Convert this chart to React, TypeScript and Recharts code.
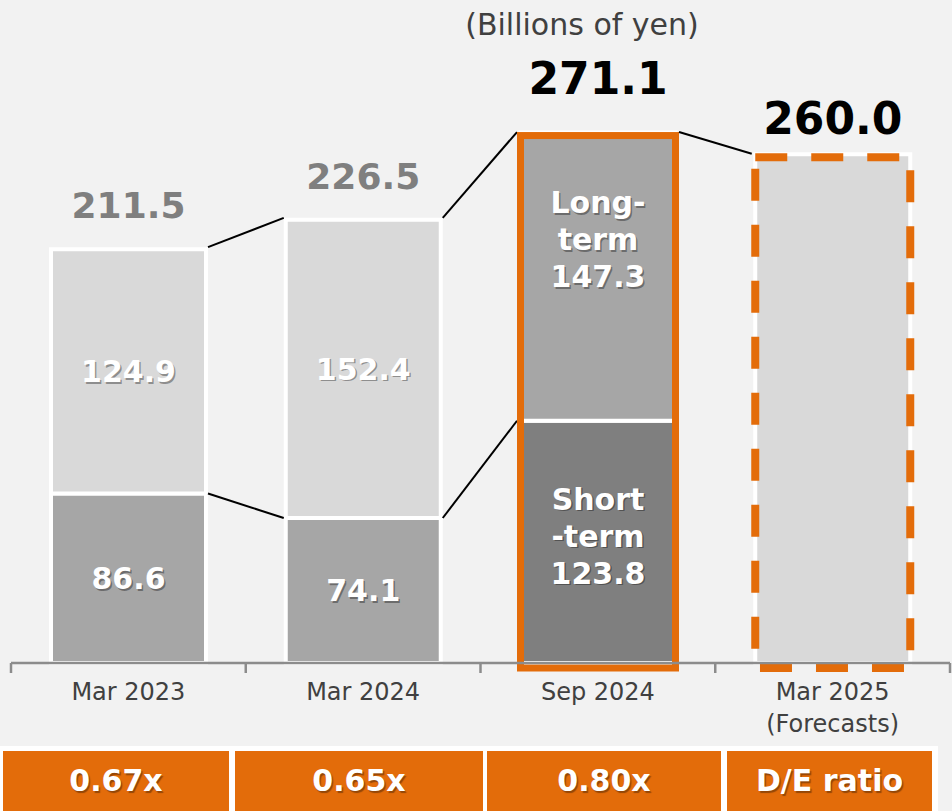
import React from "react";
import { ComposedChart, Bar, XAxis, YAxis, Cell, LabelList } from "recharts";

const periods = ["Mar 2023", "Mar 2024", "Sep 2024", "Mar 2025"];
const periodNotes = ["", "", "", "(Forecasts)"];
const shortTerm = [86.6, 74.1, 123.8, null];
const longTerm = [124.9, 152.4, 147.3, null];
const forecast = [null, null, null, 260.0];
const totals = [211.5, 226.5, 271.1, 260.0];
const ratios = ["0.67x", "0.65x", "0.80x", "D/E ratio"];
const longCaption = ["Long-", "term"];
const shortCaption = ["Short", "-term"];

const HIGHLIGHT = 2; // latest actual, framed in orange
const ORANGE = "#e36c0a";
const FONT = "'DejaVu Sans', Verdana, sans-serif";

const W = 952;
const CHART_H = 745;
const PLOT_LEFT = 11;
const PLOT_RIGHT = 950;
const PLOT_BOTTOM = 663;
const BAND = (PLOT_RIGHT - PLOT_LEFT) / periods.length;

const data = periods.map((p, i) => ({
  period: p,
  note: periodNotes[i],
  short: shortTerm[i],
  long: longTerm[i],
  forecast: forecast[i],
  total: totals[i],
}));

function ShadowText({ x, y, size, children }: any) {
  return (
    <g fontFamily={FONT} fontSize={size} fontWeight="bold" textAnchor="middle">
      <text x={x + 1.5} y={y + 1.5} dy="0.36em" fill="rgba(0,0,0,0.35)">
        {children}
      </text>
      <text x={x} y={y} dy="0.36em" fill="#fff">
        {children}
      </text>
    </g>
  );
}

function segmentLabel(caption: string[], shift: number) {
  return (props: any) => {
    const { x, y, width, height, value, index } = props;
    if (value == null) return null;
    const lines = index === HIGHLIGHT ? [...caption, value.toFixed(1)] : [value.toFixed(1)];
    const cx = x + width / 2;
    const cy = y + height / 2 + (index === HIGHLIGHT ? shift : 0);
    const lh = 37;
    return (
      <g>
        {lines.map((t, k) => (
          <ShadowText key={k} x={cx} y={cy + (k - (lines.length - 1) / 2) * lh} size={30}>
            {t}
          </ShadowText>
        ))}
      </g>
    );
  };
}

function totalLabel(props: any) {
  const { x, y, width, value, index } = props;
  if (value == null) return null;
  const strong = index >= HIGHLIGHT;
  const off = index === HIGHLIGHT ? 54 : index > HIGHLIGHT ? 36 : 44;
  return (
    <text
      x={x + width / 2}
      y={y - off}
      dy="0.36em"
      textAnchor="middle"
      fontFamily={FONT}
      fontWeight="bold"
      fontSize={strong ? 44 : 36}
      fill={strong ? "#000" : "#7f7f7f"}
    >
      {value.toFixed(1)}
    </text>
  );
}

// frame around the total + connector lines to the next bar
function FrameShape(props: any) {
  const { x, y, width, height, index } = props;
  const ppu = height / totals[index];
  const base = y + height;
  const framed = index >= HIGHLIGHT;
  const out: any[] = [];
  if (framed) {
    out.push(
      <rect
        key="frame"
        x={x}
        y={y + 3}
        width={width}
        height={height + 2}
        fill="none"
        stroke={ORANGE}
        strokeWidth={index === HIGHLIGHT ? 7 : 8}
        strokeDasharray={index === HIGHLIGHT ? undefined : "32 24"}
      />
    );
  }
  if (index < totals.length - 1) {
    const nx = x + BAND;
    const nextFramed = index + 1 >= HIGHLIGHT;
    const x1 = x + width + (framed ? 3.5 : 2);
    const x2 = nx - (nextFramed ? 3.5 : 2);
    const y1 = framed ? y - 0.5 : y - 2;
    const nTop = base - totals[index + 1] * ppu;
    const y2 = nextFramed ? nTop - 0.5 : nTop - 2;
    out.push(<line key="top" x1={x1} y1={y1} x2={x2} y2={y2} stroke="#000" strokeWidth={2} />);
    const s0 = shortTerm[index];
    const s1 = shortTerm[index + 1];
    if (s0 != null && s1 != null) {
      out.push(
        <line
          key="mid"
          x1={x1}
          y1={base - s0 * ppu}
          x2={x2}
          y2={base - s1 * ppu}
          stroke="#000"
          strokeWidth={2}
        />
      );
    }
  }
  return <g>{out}</g>;
}

function PeriodTick(props: any) {
  const { x, payload } = props;
  const i = payload.index;
  const note = periodNotes[i];
  const left = x - BAND / 2;
  return (
    <g>
      <line x1={left} y1={PLOT_BOTTOM} x2={left} y2={PLOT_BOTTOM + 10} stroke="#8c8c8c" strokeWidth={2.5} />
      {i === periods.length - 1 && (
        <line x1={x + BAND / 2} y1={PLOT_BOTTOM} x2={x + BAND / 2} y2={PLOT_BOTTOM + 10} stroke="#8c8c8c" strokeWidth={2.5} />
      )}
      <text x={x} y={PLOT_BOTTOM + 28} dy="0.36em" textAnchor="middle" fontFamily={FONT} fontSize={24} fill="#404040">
        {payload.value}
      </text>
      {note && (
        <text x={x} y={PLOT_BOTTOM + 60} dy="0.36em" textAnchor="middle" fontFamily={FONT} fontSize={24} fill="#404040">
          {note}
        </text>
      )}
    </g>
  );
}

export default function App() {
  return (
    <div
      style={{
        position: "absolute",
        left: 0,
        top: 0,
        width: W,
        height: 811,
        background: "#f2f2f2",
        fontFamily: FONT,
        overflow: "hidden",
      }}
    >
      <div
        style={{
          position: "absolute",
          left: 420,
          width: 324,
          top: 7,
          textAlign: "center",
          fontSize: 30,
          color: "#404040",
        }}
      >
        (Billions of yen)
      </div>
      <ComposedChart
        width={W}
        height={CHART_H}
        data={data}
        margin={{ top: 76, right: W - PLOT_RIGHT, left: PLOT_LEFT, bottom: 0 }}
        barGap={0}
        barCategoryGap={0}
      >
        <YAxis hide domain={[0, 300]} />
        <XAxis
          xAxisId="main"
          dataKey="period"
          height={CHART_H - PLOT_BOTTOM}
          axisLine={{ stroke: "#8c8c8c", strokeWidth: 2.5 }}
          tickLine={false}
          interval={0}
          tick={<PeriodTick />}
        />
        <XAxis xAxisId="frame" dataKey="period" orientation="top" height={0} hide />
        <Bar xAxisId="main" dataKey="short" stackId="debt" barSize={155} stroke="#fff" strokeWidth={4} isAnimationActive={false}>
          {data.map((d, i) => (
            <Cell key={i} fill={i === HIGHLIGHT ? "#7f7f7f" : "#a6a6a6"} />
          ))}
          <LabelList dataKey="short" content={segmentLabel(shortCaption, -6)} />
        </Bar>
        <Bar xAxisId="main" dataKey="long" stackId="debt" barSize={155} stroke="#fff" strokeWidth={4} isAnimationActive={false}>
          {data.map((d, i) => (
            <Cell key={i} fill={i === HIGHLIGHT ? "#a6a6a6" : "#d9d9d9"} />
          ))}
          <LabelList dataKey="long" content={segmentLabel(longCaption, -37)} />
        </Bar>
        <Bar
          xAxisId="main"
          dataKey="forecast"
          stackId="debt"
          barSize={155}
          fill="#d9d9d9"
          stroke="#fff"
          strokeWidth={4}
          isAnimationActive={false}
        />
        <Bar xAxisId="frame" dataKey="total" barSize={155} shape={<FrameShape />} isAnimationActive={false}>
          <LabelList dataKey="total" content={totalLabel} />
        </Bar>
      </ComposedChart>
      <div
        style={{
          position: "absolute",
          left: 0,
          top: 746,
          width: 938,
          height: 70,
          background: "#fff",
        }}
      >
        {ratios.map((r, i) => {
          const edges = [
            [3, 229],
            [235, 483],
            [487, 721],
            [727, 932],
          ][i];
          return (
            <div
              key={i}
              style={{
                position: "absolute",
                left: edges[0],
                width: edges[1] - edges[0],
                top: 5,
                height: 65,
                background: ORANGE,
                color: "#fff",
                fontWeight: "bold",
                fontSize: 30,
                lineHeight: "60px",
                textAlign: "center",
                textShadow: "1.5px 1.5px 1px rgba(0,0,0,0.35)",
              }}
            >
              {r}
            </div>
          );
        })}
      </div>
    </div>
  );
}
